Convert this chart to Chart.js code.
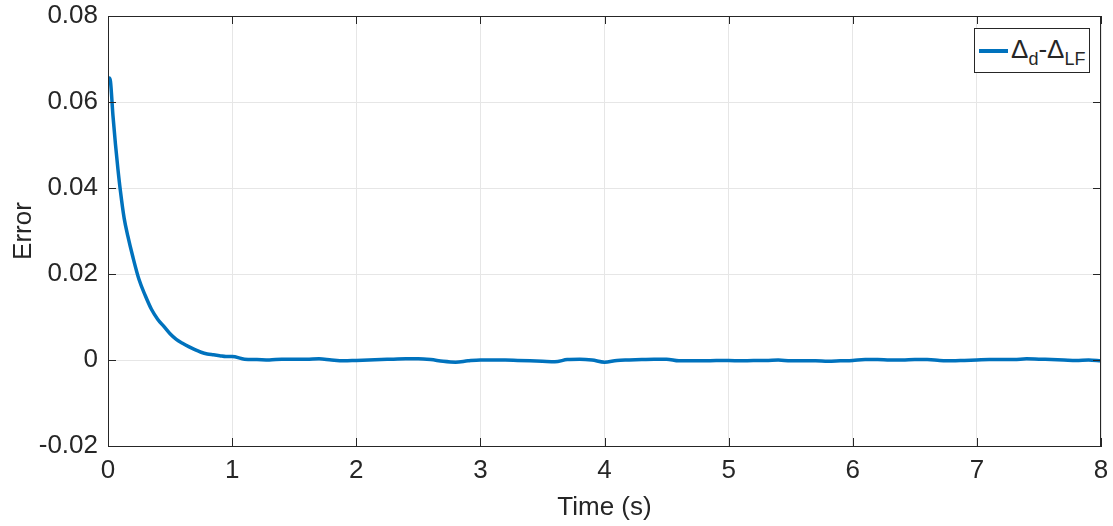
<!DOCTYPE html>
<html>
<head>
<meta charset="utf-8">
<script src="https://cdn.jsdelivr.net/npm/chart.js@4"></script>
<style>
  body { margin: 0; background: #fff; }
  #wrap { position: relative; width: 1113px; height: 526px; }
  #legend {
    position: absolute; background: #fff; border: 1px solid #262626; box-sizing: border-box;
    font-family: "Liberation Sans", Arial, sans-serif; font-size: 26px; color: #262626;
    height: 45px; width: 116px; padding: 0 0 0 4px; white-space: nowrap; line-height: 40px;
  }
  #legend .swatch { display: inline-block; width: 29px; height: 4px; vertical-align: middle; margin-right: 3px; }
  #legend sub { font-size: 18px; vertical-align: -7px; }
</style>
</head>
<body>
<div id="wrap">
  <canvas id="chart" width="1113" height="526"></canvas>
  <div id="legend"></div>
</div>
<script>
// time axis (s)
const timeS = [
  0, 0.01, 0.02, 0.04, 0.06, 0.08, 0.10, 0.13, 0.16, 0.20, 0.25, 0.30, 0.35, 0.40,
  0.45, 0.50, 0.55, 0.60, 0.65, 0.70, 0.75, 0.80, 0.85, 0.90, 0.95, 1.00,
  1.1, 1.2, 1.3, 1.4, 1.5, 1.6, 1.7, 1.8, 1.9, 2.0,
  2.1, 2.2, 2.3, 2.4, 2.5, 2.6, 2.7, 2.8, 2.9, 3.0,
  3.1, 3.2, 3.3, 3.4, 3.5, 3.6, 3.7, 3.8, 3.9, 4.0,
  4.1, 4.2, 4.3, 4.4, 4.5, 4.6, 4.7, 4.8, 4.9, 5.0,
  5.1, 5.2, 5.3, 5.4, 5.5, 5.6, 5.7, 5.8, 5.9, 6.0,
  6.1, 6.2, 6.3, 6.4, 6.5, 6.6, 6.7, 6.8, 6.9, 7.0,
  7.1, 7.2, 7.3, 7.4, 7.5, 7.6, 7.7, 7.8, 7.9, 8.0
];
// error Δd - ΔLF
const errorVals = [
  0.0645, 0.0656, 0.0648, 0.0568, 0.0502, 0.0444, 0.0393, 0.0330, 0.0288, 0.0240, 0.0187, 0.0150, 0.0118, 0.0095,
  0.0078, 0.0061, 0.0048, 0.0039, 0.0031, 0.0024, 0.0018, 0.0014, 0.0012, 0.0010, 0.0008, 0.0008,
  0.0002, 0.0001, 0.0000, 0.0002, 0.0002, 0.0002, 0.0003, 0.0000, -0.0002, -0.0001,
  0.0000, 0.0001, 0.0002, 0.0003, 0.0003, 0.0001, -0.0003, -0.0005, -0.0002, 0.0000,
  0.0000, 0.0000, -0.0001, -0.0002, -0.0003, -0.0004, 0.0001, 0.0002, 0.0000, -0.0005,
  -0.0001, 0.0000, 0.0001, 0.0002, 0.0002, -0.0002, -0.0002, -0.0002, -0.0001, -0.0001,
  -0.0002, -0.0001, -0.0001, 0.0000, -0.0002, -0.0002, -0.0002, -0.0003, -0.0002, -0.0001,
  0.0001, 0.0001, 0.0000, 0.0000, 0.0001, 0.0001, -0.0001, -0.0002, -0.0001, 0.0000,
  0.0001, 0.0001, 0.0001, 0.0003, 0.0002, 0.0001, 0.0000, -0.0001, 0.0000, -0.0002
];
const xTicks = [0, 1, 2, 3, 4, 5, 6, 7, 8];
const yTicks = [-0.02, 0, 0.02, 0.04, 0.06, 0.08];
const seriesName = 'Δd-ΔLF';

const axisColor = '#262626';
const gridColor = '#e6e6e6';
const lineColor = '#0072BD';
const font = { family: '"Liberation Sans", Arial, sans-serif', size: 26 };

// MATLAB-ish box with inward tick marks
const boxPlugin = {
  id: 'box',
  afterDraw(chart) {
    const { ctx, chartArea: a, scales } = chart;
    ctx.save();
    ctx.strokeStyle = axisColor;
    ctx.lineWidth = 1;
    ctx.strokeRect(a.left + 0.5, a.top + 0.5, a.right - a.left - 1, a.bottom - a.top);
    const len = 8;
    ctx.beginPath();
    xTicks.forEach(v => {
      const px = Math.round(scales.x.getPixelForValue(v)) + 0.5;
      ctx.moveTo(px, a.bottom); ctx.lineTo(px, a.bottom - len);
      ctx.moveTo(px, a.top); ctx.lineTo(px, a.top + len);
    });
    yTicks.forEach(v => {
      const py = Math.round(scales.y.getPixelForValue(v)) + 0.5;
      ctx.moveTo(a.left, py); ctx.lineTo(a.left + len, py);
      ctx.moveTo(a.right, py); ctx.lineTo(a.right - len, py);
    });
    ctx.stroke();
    ctx.restore();
  }
};

// html legend so the subscripts stay real text
const htmlLegend = {
  id: 'htmlLegend',
  afterUpdate(chart) {
    const el = document.getElementById('legend');
    el.innerHTML = '';
    chart.data.datasets.forEach(ds => {
      const sw = document.createElement('span');
      sw.className = 'swatch';
      sw.style.background = ds.borderColor;
      el.appendChild(sw);
      const txt = document.createElement('span');
      txt.innerHTML = 'Δ<sub>d</sub>-Δ<sub>LF</sub>';
      el.appendChild(txt);
    });
    el.style.right = (chart.width - chart.chartArea.right + 11) + 'px';
    el.style.top = (chart.chartArea.top + 12) + 'px';
  }
};

new Chart(document.getElementById('chart'), {
  type: 'line',
  data: {
    datasets: [{
      label: seriesName,
      data: timeS.map((t, i) => ({ x: t, y: errorVals[i] })),
      borderColor: lineColor,
      borderWidth: 3.5,
      pointRadius: 0,
      cubicInterpolationMode: 'monotone',
      fill: false
    }]
  },
  options: {
    responsive: false,
    animation: false,
    layout: { padding: { top: 16, right: 12, left: 0, bottom: 0 } },
    plugins: { legend: { display: false }, tooltip: { enabled: false } },
    scales: {
      x: {
        type: 'linear', min: 0, max: 8,
        afterFit(s) { s.height = 80; s.paddingLeft = 0; s.paddingRight = 0; },
        afterBuildTicks(s) { s.ticks = xTicks.map(v => ({ value: v })); },
        grid: { color: gridColor, drawTicks: false },
        border: { color: axisColor },
        ticks: { color: axisColor, font, padding: 9, maxRotation: 0 },
        title: { display: true, text: 'Time (s)', color: axisColor, font, padding: { top: 0, bottom: 3 } }
      },
      y: {
        min: -0.02, max: 0.08,
        afterFit(s) { s.width = 108; s.paddingTop = 0; s.paddingBottom = 0; },
        afterBuildTicks(s) { s.ticks = yTicks.map(v => ({ value: v })); },
        grid: { color: gridColor, drawTicks: false },
        border: { color: axisColor },
        ticks: {
          color: axisColor, font, padding: 10,
          callback: v => Math.abs(v) < 1e-9 ? '0' : v.toFixed(2)
        },
        title: { display: true, text: 'Error', color: axisColor, font, padding: { top: 8, bottom: 0 } }
      }
    }
  },
  plugins: [boxPlugin, htmlLegend]
});
</script>
</body>
</html>
